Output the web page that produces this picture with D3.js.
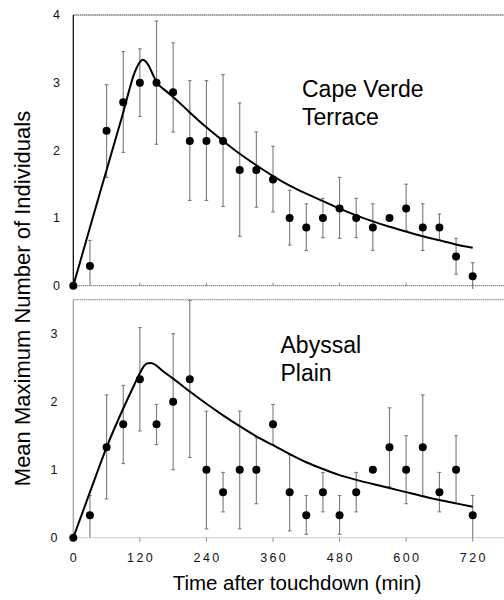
<!DOCTYPE html>
<html><head><meta charset="utf-8">
<script src="https://cdn.jsdelivr.net/npm/d3@7"></script>
<style>body{margin:0;background:#fff}svg{display:block}</style>
</head><body><svg id="c" width="504" height="600"></svg>
<script>
// ---- data ----
const times = [0,30,60,90,120,150,180,210,240,270,300,330,360,390,420,450,480,510,540,570,600,630,660,690,720];
const xTicks = [0,120,240,360,480,600,720];
const capeTicks = [0,1,2,3,4];
const abyssTicks = [0,1,2,3];

const capeMean = [0,0.29,2.29,2.71,3.0,3.0,2.86,2.14,2.14,2.14,1.71,1.71,1.57,1.0,0.86,1.0,1.14,1.0,0.86,1.0,1.14,0.86,0.86,0.43,0.14];
const capeHigh = [null,0.67,2.97,3.46,3.5,3.91,3.59,3.03,3.03,3.12,2.70,2.27,2.06,1.41,1.21,1.29,1.60,1.29,1.21,null,1.50,1.21,1.06,0.70,0.34];
const capeLow  = [null,0,1.60,1.97,2.5,2.09,2.27,1.26,1.26,1.17,0.73,1.16,1.09,0.60,0.52,0.71,0.70,0.71,0.52,null,0.81,0.52,0.68,0.17,-0.05];

const abyssMean = [0,0.33,1.33,1.67,2.33,1.67,2.0,2.33,1.0,0.67,1.0,1.0,1.67,0.67,0.33,0.67,0.33,0.67,1.0,1.33,1.0,1.33,0.67,1.0,0.33];
const abyssHigh = [null,0.62,2.10,2.24,3.09,1.96,3.0,3.49,1.86,0.96,1.86,1.47,1.96,1.22,0.62,0.96,0.62,0.96,null,1.91,1.50,2.10,0.96,1.50,0.62];
const abyssLow  = [null,0,0.57,1.09,1.57,1.37,1.0,1.18,0.13,0.38,0.13,0.5,1.37,0.1,0.05,0.38,0.05,0.38,null,0.75,0.5,0.62,0.38,0.5,0.0];

const capeFitT = [0,30,60,90,111,118,125,131,136,144,151,165,180,210,240,270,300,330,360,390,420,450,480,510,540,570,600,630,660,690,720];
const capeFitY = [0,0.86,1.71,2.56,3.16,3.28,3.34,3.31,3.25,3.11,3.0,2.89,2.79,2.56,2.34,2.14,1.95,1.78,1.62,1.48,1.36,1.25,1.14,1.04,0.95,0.87,0.80,0.73,0.67,0.61,0.56];
const abyssFitT = [0,30,60,90,110,120,127,132,140,148,160,180,210,240,270,300,330,360,390,420,450,480,510,540,570,600,630,660,690,720];
const abyssFitY = [0,0.67,1.33,1.90,2.25,2.42,2.52,2.56,2.57,2.54,2.46,2.34,2.15,1.97,1.80,1.64,1.49,1.36,1.23,1.11,1.01,0.92,0.85,0.79,0.73,0.67,0.61,0.555,0.505,0.456];

const capeLabel = ["Cape Verde","Terrace"];
const abyssLabel = ["Abyssal","Plain"];

// ---- drawing ----
const svg = d3.select("#c");
const font = "'Liberation Sans', Arial, sans-serif";
const x = d3.scaleLinear().domain([0,720]).range([73.3,472.7]);
const rightEdge = 504;

function panel(cfg){
  const y = d3.scaleLinear().domain(cfg.domain).range(cfg.range);
  const g = svg.append("g");
  const y0 = y(0), yTop = cfg.range[1];
  g.append("line").attr("x1",x(0)).attr("x2",rightEdge).attr("y1",yTop).attr("y2",yTop)
    .attr("stroke",cfg.frameColor).attr("stroke-width",1.2).attr("stroke-dasharray","1.5,0.6");
  g.append("line").attr("x1",x(0)).attr("x2",rightEdge).attr("y1",y0).attr("y2",y0)
    .attr("stroke",cfg.frameColor).attr("stroke-width",1).attr("stroke-dasharray","1,1");
  g.append("line").attr("x1",x(0)).attr("x2",x(0)).attr("y1",yTop).attr("y2",y0)
    .attr("stroke",cfg.axisColor).attr("stroke-width",1.2);
  g.selectAll(".xt").data(xTicks.slice(1)).join("line")
    .attr("x1",d=>x(d)).attr("x2",d=>x(d))
    .attr("y1",y0).attr("y2",y0+cfg.tickLen)
    .attr("stroke","#888").attr("stroke-width",1);
  g.selectAll(".yl").data(cfg.ticks).join("text")
    .attr("x",cfg.labelX).attr("y",d=>y(d)).attr("dy","0.35em")
    .attr("text-anchor","end").attr("font-family",font).attr("font-size",12.5)
    .attr("fill","#111").text(d=>d);
  const eb = times.map((t,i)=>({t,lo:cfg.low[i],hi:cfg.high[i]})).filter(d=>d.hi!=null);
  const ebg = g.append("g").attr("stroke","#7a7a7a").attr("stroke-width",1.1);
  ebg.selectAll(".v").data(eb).join("line")
    .attr("x1",d=>x(d.t)).attr("x2",d=>x(d.t)).attr("y1",d=>y(d.lo)).attr("y2",d=>y(d.hi));
  ebg.selectAll(".ch").data(eb).join("line")
    .attr("x1",d=>x(d.t)-1.8).attr("x2",d=>x(d.t)+1.8).attr("y1",d=>y(d.hi)).attr("y2",d=>y(d.hi));
  ebg.selectAll(".cl").data(eb.filter(d=>d.lo>0)).join("line")
    .attr("x1",d=>x(d.t)-1.8).attr("x2",d=>x(d.t)+1.8).attr("y1",d=>y(d.lo)).attr("y2",d=>y(d.lo));
  const line = d3.line().x(d=>x(d[0])).y(d=>y(d[1])).curve(d3.curveMonotoneX);
  g.append("path").datum(cfg.fitT.map((t,i)=>[t,cfg.fitY[i]]))
    .attr("d",line).attr("fill","none").attr("stroke","#000").attr("stroke-width",2);
  g.selectAll(".dot").data(times.map((t,i)=>[t,cfg.mean[i]])).join("circle")
    .attr("cx",d=>x(d[0])).attr("cy",d=>y(d[1])).attr("r",4).attr("fill","#000");
  g.append("text").attr("font-family",font).attr("font-size",23).attr("fill","#000")
    .selectAll("tspan").data(cfg.label).join("tspan")
    .attr("x",cfg.labelPos[0]).attr("y",(d,i)=>cfg.labelPos[1]+i*27.8).text(d=>d);
  return y;
}

panel({domain:[0,4],range:[285.7,15],ticks:capeTicks,mean:capeMean,high:capeHigh,low:capeLow,
  fitT:capeFitT,fitY:capeFitY,label:capeLabel,labelPos:[302,96.7],labelX:60,
  frameColor:"#333",axisColor:"#000",tickLen:-3});
panel({domain:[0,3.5],range:[537.7,299.7],ticks:abyssTicks,mean:abyssMean,high:abyssHigh,low:abyssLow,
  fitT:abyssFitT,fitY:abyssFitY,label:abyssLabel,labelPos:[280.5,352.7],labelX:57.5,
  frameColor:"#9a9a9a",axisColor:"#9a9a9a",tickLen:4});

svg.selectAll(".xl").data(xTicks).join("text")
  .attr("x",d=>x(d)).attr("y",562).attr("dx",1.2)
  .attr("text-anchor","middle").attr("font-family",font).attr("font-size",12.5)
  .attr("letter-spacing","2.4px").attr("fill","#111").text(d=>d);

svg.append("text").attr("x",297).attr("y",590).attr("text-anchor","middle")
  .attr("font-family",font).attr("font-size",20.5).attr("fill","#000")
  .text("Time after touchdown (min)");
svg.append("text").attr("transform","translate(30,298.5) rotate(-90)").attr("text-anchor","middle")
  .attr("font-family",font).attr("font-size",22).attr("fill","#000")
  .text("Mean Maximum Number of Individuals");
</script>
</body></html>
